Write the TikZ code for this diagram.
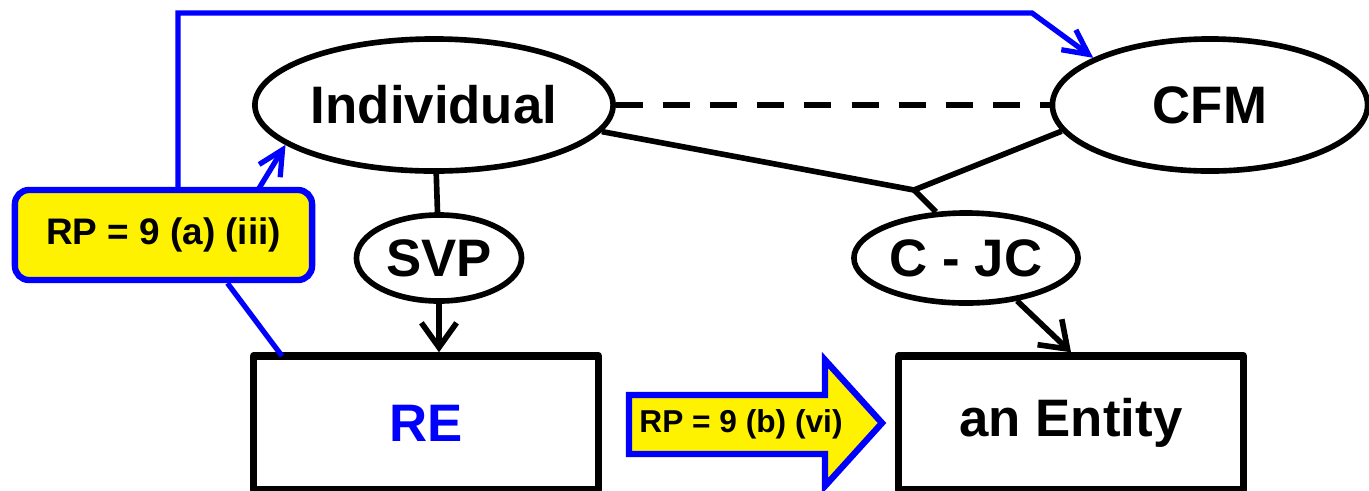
\documentclass[tikz,border=0pt]{standalone}
\usepackage{fontspec}
\setmainfont{Liberation Sans}
\usetikzlibrary{shapes.geometric,arrows.meta}
\tikzset{>={Straight Barb[length=7pt,width=10pt]}}
\tikzset{
  oval/.style={draw,ellipse,line width=1.6pt,inner sep=0pt,
    font=\bfseries\fontsize{15}{18}\selectfont},
  entbox/.style={draw,rectangle,line width=2.1pt,line join=round,inner sep=0pt,
    minimum width=3.45cm,minimum height=1.34cm,
    font=\bfseries\fontsize{15}{18}\selectfont},
  rpbox/.style={draw=blue,fill=yellow,line width=1.8pt,rounded corners=4pt,
    minimum width=2.97cm,minimum height=0.9cm,inner sep=0pt,
    font=\bfseries\fontsize{10.5}{12}\selectfont},
  link/.style={line width=1.6pt},
  rplink/.style={draw=blue,line width=1.5pt,
    >={Straight Barb[length=7pt,width=7pt]}},
}

\begin{document}
\begin{tikzpicture}[x=0.01cm,y=-0.01cm]
\useasboundingbox (0,0) rectangle (1369,490);
% ovals
\node[oval,minimum width=3.58cm,minimum height=1.32cm] (ind) at (434,105) {Individual};
\node[oval,minimum width=3.15cm,minimum height=1.32cm] (cfm) at (1210,105) {CFM};
\node[oval,minimum width=1.65cm,minimum height=0.86cm] (svp) at (439,258) {SVP};
\node[oval,minimum width=2.24cm,minimum height=0.90cm] (cjc) at (966,258) {C - JC};
% boxes
\node[entbox,text=blue] (re) at (426,423) {RE};
\node[entbox] (ent) at (1071,423) {an Entity};
% black links
\draw[link] (ind) -- (svp);
\draw[link,->] (svp.south) -- (svp.south |- re.north);
\draw[link,line width=1.8pt,dash pattern=on 7.7pt off 5.7pt] (ind.east) -- (cfm.west);
\coordinate (jn) at (914,190);
\draw[link] (ind.-9) -- (jn) -- (cfm.190);
\draw[link] (jn) -- (cjc.123);
\draw[link,->] (cjc.-40) -- (ent.north);
% rp (a)
\node[rpbox] (rp1) at (163.5,235) {RP = 9 (a) (iii)};
\coordinate (ra) at (178,13);
\coordinate (rb) at (1032,13);
\coordinate (rc) at (258,190);
\coordinate (rd) at (282,356);
\draw[rplink,->] (rp1.north -| ra) -- (ra) -- (rb) -- (cfm.158);
\draw[rplink,->] (rc) -- (ind.195);
\draw[rplink] (rd) -- (rp1.-37);
% rp (b) arrow
\draw[draw=blue,fill=yellow,line width=1.8pt] (629,395) -- (825,395) -- (825,360)
  -- (882,423) -- (825,486) -- (825,454) -- (629,454) -- cycle;
\node[font=\bfseries\fontsize{9}{11}\selectfont,inner sep=0pt] (rp2) at (741,424) {RP = 9 (b) (vi)};
\end{tikzpicture}
\end{document}
